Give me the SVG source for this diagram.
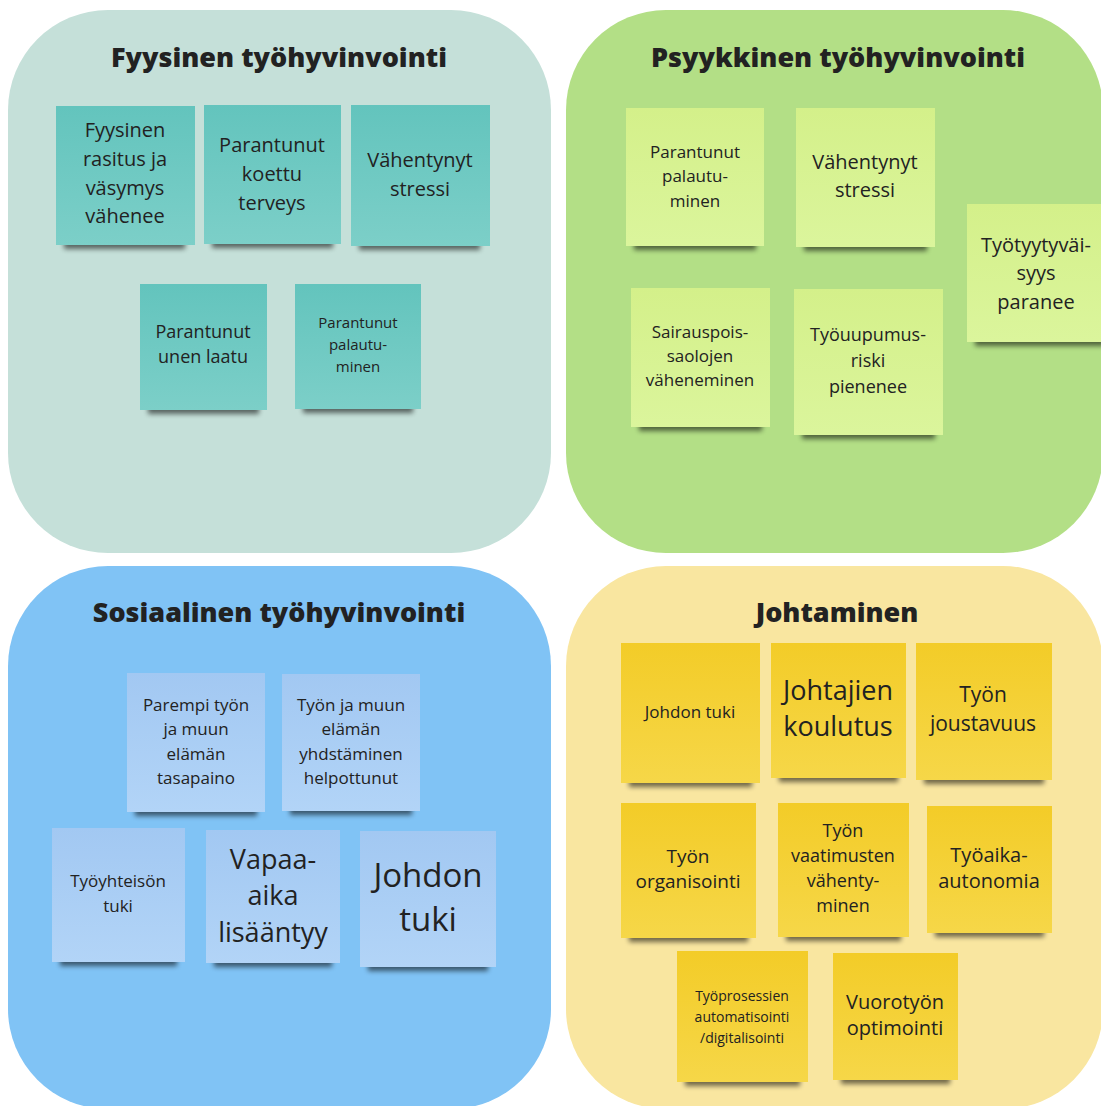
<svg xmlns="http://www.w3.org/2000/svg" width="1101" height="1106" viewBox="0 0 1101 1106">
<style>
.title{font-family:"Open Sans","Noto Sans","Liberation Sans",sans-serif;font-weight:800;font-size:27px;fill:#222;text-anchor:middle}
.t{font-family:"Open Sans","Noto Sans","Liberation Sans",sans-serif;fill:#222;text-anchor:middle}
.sh{fill:#000;opacity:0.55;filter:url(#blur)}
</style>
<defs>
<filter id="blur" x="-20%" y="-100%" width="140%" height="300%"><feGaussianBlur stdDeviation="2.5"/></filter>
<linearGradient id="gTeal" x1="0" y1="0" x2="0" y2="1"><stop offset="0" stop-color="#63c4bd"/><stop offset="1" stop-color="#7ccfc8"/></linearGradient>
<linearGradient id="gGreen" x1="0" y1="0" x2="0" y2="1"><stop offset="0" stop-color="#d4f08a"/><stop offset="1" stop-color="#dbf59c"/></linearGradient>
<linearGradient id="gBlue" x1="0" y1="0" x2="0" y2="1"><stop offset="0" stop-color="#a2c8f2"/><stop offset="1" stop-color="#b2d4f7"/></linearGradient>
<linearGradient id="gYellow" x1="0" y1="0" x2="0" y2="1"><stop offset="0" stop-color="#f3cc28"/><stop offset="1" stop-color="#f6d748"/></linearGradient>
</defs>
<rect width="1101" height="1106" fill="#ffffff"/>

<g id="quadrants">
<rect id="q-fyysinen" x="8" y="10" width="543" height="543" rx="100" fill="#c5e0d9"/>
<rect id="q-psyykkinen" x="566" y="10" width="537" height="543" rx="100" fill="#b3df86"/>
<rect id="q-sosiaalinen" x="8" y="566" width="543" height="543" rx="100" fill="#80c3f5"/>
<rect id="q-johtaminen" x="566" y="566" width="537" height="543" rx="100" fill="#f9e6a0"/>
<text class="title" x="279" y="67">Fyysinen työhyvinvointi</text>
<text class="title" x="838" y="67">Psyykkinen työhyvinvointi</text>
<text class="title" x="279" y="622">Sosiaalinen työhyvinvointi</text>
<text class="title" x="837" y="622">Johtaminen</text>
</g>

<g id="connectors"></g>

<!-- Fyysinen -->
<g id="n-fyysinen-rasitus">
<rect class="sh" x="64" y="239" width="121" height="10"/>
<rect x="56" y="106" width="139" height="139" fill="url(#gTeal)"/>
<text class="t" font-size="20"><tspan x="125" y="137">Fyysinen</tspan><tspan x="125" y="166">rasitus ja</tspan><tspan x="125" y="195">väsymys</tspan><tspan x="125" y="223">vähenee</tspan></text>
</g>
<g id="n-koettu-terveys">
<rect class="sh" x="212" y="238" width="121" height="10"/>
<rect x="204" y="105" width="137" height="139" fill="url(#gTeal)"/>
<text class="t" font-size="20"><tspan x="272" y="152">Parantunut</tspan><tspan x="272" y="181">koettu</tspan><tspan x="272" y="210">terveys</tspan></text>
</g>
<g id="n-fyys-stressi">
<rect class="sh" x="359" y="240" width="121" height="10"/>
<rect x="351" y="105" width="139" height="141" fill="url(#gTeal)"/>
<text class="t" font-size="20"><tspan x="420" y="167">Vähentynyt</tspan><tspan x="420" y="196">stressi</tspan></text>
</g>
<g id="n-unen-laatu">
<rect class="sh" x="148" y="404" width="111" height="10"/>
<rect x="140" y="284" width="127" height="126" fill="url(#gTeal)"/>
<text class="t" font-size="18"><tspan x="203" y="338">Parantunut</tspan><tspan x="203" y="363">unen laatu</tspan></text>
</g>
<g id="n-fyys-palautuminen">
<rect class="sh" x="303" y="403" width="110" height="10"/>
<rect x="295" y="284" width="126" height="125" fill="url(#gTeal)"/>
<text class="t" font-size="15"><tspan x="358" y="328">Parantunut</tspan><tspan x="358" y="350">palautu-</tspan><tspan x="358" y="372">minen</tspan></text>
</g>

<!-- Psyykkinen -->
<g id="n-psyyk-palautuminen">
<rect class="sh" x="634" y="240" width="122" height="10"/>
<rect x="626" y="108" width="138" height="138" fill="url(#gGreen)"/>
<text class="t" font-size="17"><tspan x="695" y="158">Parantunut</tspan><tspan x="695" y="182">palautu-</tspan><tspan x="695" y="207">minen</tspan></text>
</g>
<g id="n-psyyk-stressi">
<rect class="sh" x="804" y="241" width="123" height="10"/>
<rect x="796" y="108" width="139" height="139" fill="url(#gGreen)"/>
<text class="t" font-size="20"><tspan x="865" y="169">Vähentynyt</tspan><tspan x="865" y="197">stressi</tspan></text>
</g>
<g id="n-tyotyytyvaisyys">
<rect class="sh" x="975" y="336" width="130" height="10"/>
<rect x="967" y="204" width="140" height="138" fill="url(#gGreen)"/>
<text class="t" font-size="20"><tspan x="1036" y="252">Työtyytyväi-</tspan><tspan x="1036" y="280">syys</tspan><tspan x="1036" y="309">paranee</tspan></text>
</g>
<g id="n-sairauspoissaolot">
<rect class="sh" x="639" y="421" width="123" height="10"/>
<rect x="631" y="288" width="139" height="139" fill="url(#gGreen)"/>
<text class="t" font-size="17"><tspan x="700" y="338">Sairauspois-</tspan><tspan x="700" y="362">saolojen</tspan><tspan x="700" y="386">väheneminen</tspan></text>
</g>
<g id="n-tyouupumus">
<rect class="sh" x="802" y="429" width="133" height="10"/>
<rect x="794" y="289" width="149" height="146" fill="url(#gGreen)"/>
<text class="t" font-size="18"><tspan x="868" y="341">Työuupumus-</tspan><tspan x="868" y="367">riski</tspan><tspan x="868" y="393">pienenee</tspan></text>
</g>

<!-- Sosiaalinen -->
<g id="n-tasapaino">
<rect class="sh" x="135" y="806" width="122" height="10"/>
<rect x="127" y="673" width="138" height="139" fill="url(#gBlue)"/>
<text class="t" font-size="17"><tspan x="196" y="711">Parempi työn</tspan><tspan x="196" y="735">ja muun</tspan><tspan x="196" y="760">elämän</tspan><tspan x="196" y="784">tasapaino</tspan></text>
</g>
<g id="n-yhdistaminen">
<rect class="sh" x="290" y="805" width="122" height="10"/>
<rect x="282" y="674" width="138" height="137" fill="url(#gBlue)"/>
<text class="t" font-size="17"><tspan x="351" y="711">Työn ja muun</tspan><tspan x="351" y="735">elämän</tspan><tspan x="351" y="760">yhdstäminen</tspan><tspan x="351" y="784">helpottunut</tspan></text>
</g>
<g id="n-tyoyhteison-tuki">
<rect class="sh" x="60" y="956" width="117" height="10"/>
<rect x="52" y="828" width="133" height="134" fill="url(#gBlue)"/>
<text class="t" font-size="17"><tspan x="118" y="887">Työyhteisön</tspan><tspan x="118" y="912">tuki</tspan></text>
</g>
<g id="n-vapaa-aika">
<rect class="sh" x="214" y="957" width="118" height="10"/>
<rect x="206" y="830" width="134" height="133" fill="url(#gBlue)"/>
<text class="t" font-size="27"><tspan x="273" y="869">Vapaa-</tspan><tspan x="273" y="905">aika</tspan><tspan x="273" y="942">lisääntyy</tspan></text>
</g>
<g id="n-sos-johdon-tuki">
<rect class="sh" x="368" y="961" width="120" height="10"/>
<rect x="360" y="831" width="136" height="136" fill="url(#gBlue)"/>
<text class="t" font-size="33"><tspan x="428" y="887">Johdon</tspan><tspan x="428" y="931">tuki</tspan></text>
</g>

<!-- Johtaminen -->
<g id="n-johdon-tuki">
<rect class="sh" x="629" y="777" width="123" height="10"/>
<rect x="621" y="643" width="139" height="140" fill="url(#gYellow)"/>
<text class="t" font-size="17"><tspan x="690" y="718">Johdon tuki</tspan></text>
</g>
<g id="n-johtajien-koulutus">
<rect class="sh" x="779" y="772" width="119" height="10"/>
<rect x="771" y="643" width="135" height="135" fill="url(#gYellow)"/>
<text class="t" font-size="27"><tspan x="838" y="700">Johtajien</tspan><tspan x="838" y="736">koulutus</tspan></text>
</g>
<g id="n-joustavuus">
<rect class="sh" x="924" y="774" width="120" height="10"/>
<rect x="916" y="643" width="136" height="137" fill="url(#gYellow)"/>
<text class="t" font-size="21"><tspan x="983" y="702">Työn</tspan><tspan x="983" y="731">joustavuus</tspan></text>
</g>
<g id="n-organisointi">
<rect class="sh" x="629" y="932" width="119" height="10"/>
<rect x="621" y="803" width="135" height="135" fill="url(#gYellow)"/>
<text class="t" font-size="19"><tspan x="688" y="863">Työn</tspan><tspan x="688" y="888">organisointi</tspan></text>
</g>
<g id="n-vaatimukset">
<rect class="sh" x="786" y="931" width="115" height="10"/>
<rect x="778" y="803" width="131" height="134" fill="url(#gYellow)"/>
<text class="t" font-size="18"><tspan x="843" y="837">Työn</tspan><tspan x="843" y="862">vaatimusten</tspan><tspan x="843" y="887">vähenty-</tspan><tspan x="843" y="912">minen</tspan></text>
</g>
<g id="n-tyoaika-autonomia">
<rect class="sh" x="935" y="927" width="109" height="10"/>
<rect x="927" y="806" width="125" height="127" fill="url(#gYellow)"/>
<text class="t" font-size="20"><tspan x="989" y="862">Työaika-</tspan><tspan x="989" y="888">autonomia</tspan></text>
</g>
<g id="n-tyoprosessit">
<rect class="sh" x="685" y="1076" width="115" height="10"/>
<rect x="677" y="951" width="131" height="131" fill="url(#gYellow)"/>
<text class="t" font-size="14"><tspan x="742" y="1001">Työprosessien</tspan><tspan x="742" y="1022">automatisointi</tspan><tspan x="742" y="1043">/digitalisointi</tspan></text>
</g>
<g id="n-vuorotyo">
<rect class="sh" x="841" y="1074" width="109" height="10"/>
<rect x="833" y="953" width="125" height="127" fill="url(#gYellow)"/>
<text class="t" font-size="20"><tspan x="895" y="1009">Vuorotyön</tspan><tspan x="895" y="1035">optimointi</tspan></text>
</g>
</svg>
